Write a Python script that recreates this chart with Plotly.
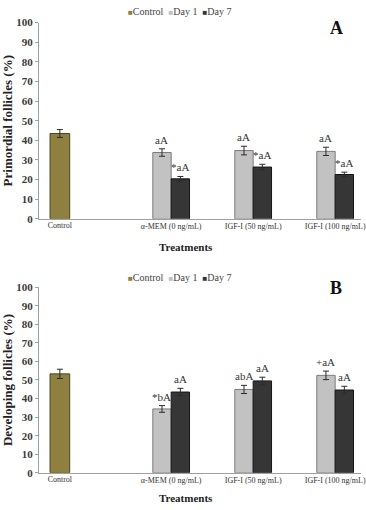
import plotly.graph_objects as go

# ---------------- data ----------------
treatments = ["α-MEM (0 ng/mL)", "IGF-I (50 ng/mL)", "IGF-I (100 ng/mL)"]
control_cat = ["Control"]
series_names = ["Control", "Day 1", "Day 7"]

# Panel A – Primordial follicles (%)
a_control = [43.5]
a_control_err = [2.0]
a_day1 = [33.8, 34.8, 34.4]
a_day1_err = [1.9, 2.2, 2.1]
a_day7 = [20.4, 26.4, 22.6]
a_day7_err = [1.2, 1.4, 1.2]
a_day1_sig = ["aA", "aA", "aA"]
a_day7_sig = ["*aA", "*aA", "*aA"]

# Panel B – Developing follicles (%)
b_control = [53.3]
b_control_err = [2.5]
b_day1 = [34.4, 44.9, 52.5]
b_day1_err = [1.8, 2.2, 2.3]
b_day7 = [43.5, 49.5, 44.6]
b_day7_err = [2.0, 2.0, 2.0]
b_day1_sig = ["*bA", "abA", "+aA"]
b_day7_sig = ["aA", "aA", "aA"]

y_ticks = [0, 10, 20, 30, 40, 50, 60, 70, 80, 90, 100]

# ---------------- styles ----------------
W, H = 366, 510
ML, MR = 39, 3
SERIF = "Liberation Serif"
col_fill = {"Control": "#8d8040", "Day 1": "#c2c2c2", "Day 7": "#363636"}
col_line = {"Control": "#4f4719", "Day 1": "#7c7c7c", "Day 7": "#151515"}
err_style = dict(type="data", color="#2b2b2b", thickness=1, width=3, visible=True)

fig = go.Figure()


def add_panel(xt, xc, ya, ctrl, ctrl_err, d1, d1_err, d7, d7_err):
    fig.add_trace(go.Bar(x=control_cat, y=ctrl, name="Control", xaxis=xc, yaxis=ya,
                         width=0.24, showlegend=False,
                         marker=dict(color=col_fill["Control"],
                                     line=dict(color=col_line["Control"], width=1)),
                         error_y=dict(array=ctrl_err, **err_style)))
    fig.add_trace(go.Bar(x=treatments, y=d1, name="Day 1", xaxis=xt, yaxis=ya,
                         showlegend=False,
                         marker=dict(color=col_fill["Day 1"],
                                     line=dict(color=col_line["Day 1"], width=1)),
                         error_y=dict(array=d1_err, **err_style)))
    fig.add_trace(go.Bar(x=treatments, y=d7, name="Day 7", xaxis=xt, yaxis=ya,
                         showlegend=False,
                         marker=dict(color=col_fill["Day 7"],
                                     line=dict(color=col_line["Day 7"], width=1)),
                         error_y=dict(array=d7_err, **err_style)))


add_panel("x", "x2", "y", a_control, a_control_err, a_day1, a_day1_err, a_day7, a_day7_err)
add_panel("x3", "x4", "y2", b_control, b_control_err, b_day1, b_day1_err, b_day7, b_day7_err)

# px per category unit and ranges so groups land where the reference has them
unit = 82.5
span = (W - ML - MR) / unit
t_lo = -(172 - ML) / unit
c_lo = -(60 - ML) / unit

domA = [1 - 218 / H, 1 - 17 / H]
domB = [1 - 478 / H, 1 - 288 / H]

tickfont_x = dict(family=SERIF, size=8, color="#333333")
tickfont_y = dict(family=SERIF, size=11, color="#3a3a3a", weight="bold")

def xt_axis(anchor):
    return dict(type="category", range=[t_lo, t_lo + span], domain=[0, 1], anchor=anchor,
                showline=True, linecolor="#a0a0a0", linewidth=1, ticks="",
                tickfont=tickfont_x, showgrid=False, zeroline=False, fixedrange=True)

def xc_axis(over, anchor):
    return dict(type="category", range=[c_lo, c_lo + span], domain=[0, 1], anchor=anchor,
                overlaying=over, showline=False, ticks="", tickfont=tickfont_x,
                showgrid=False, zeroline=False, fixedrange=True)

def y_axis(dom, title):
    return dict(range=[0, 100], domain=dom, tickvals=y_ticks, showline=True,
                linecolor="#a0a0a0", linewidth=1, ticks="outside", ticklen=3,
                tickcolor="#a0a0a0", tickfont=tickfont_y, showgrid=False, zeroline=False,
                title=dict(text=title, font=dict(family=SERIF, size=13, color="#222222",
                                                 weight="bold"), standoff=1),
                fixedrange=True)

fig.update_layout(
    width=W, height=H,
    margin=dict(l=ML, r=MR, t=0, b=0),
    paper_bgcolor="white", plot_bgcolor="white",
    barmode="group", bargap=0.552, bargroupgap=0,
    showlegend=False,
    xaxis=xt_axis("y"), xaxis2=xc_axis("x", "y"),
    xaxis3=xt_axis("y2"), xaxis4=xc_axis("x3", "y2"),
    yaxis=y_axis(domA, "Primordial follicles (%)"),
    yaxis2=y_axis(domB, "Developing follicles (%)"),
    font=dict(family=SERIF),
)

# significance letters above the error bars
bar_half = 0.224 / 2 * unit
sig_font = dict(family=SERIF, size=11, color="#333333")
for xref, yref, vals, errs, sigs, shift in [
    ("x", "y", a_day1, a_day1_err, a_day1_sig, -bar_half),
    ("x", "y", a_day7, a_day7_err, a_day7_sig, bar_half),
    ("x3", "y2", b_day1, b_day1_err, b_day1_sig, -bar_half),
    ("x3", "y2", b_day7, b_day7_err, b_day7_sig, bar_half),
]:
    for cat, v, e, s in zip(treatments, vals, errs, sigs):
        fig.add_annotation(x=cat, y=v + e, xref=xref, yref=yref, text=s,
                           showarrow=False, xshift=shift, yshift=9,
                           yanchor="middle", font=sig_font)

# legends (one per panel), x-axis titles and panel letters
def px_x(px):
    return (px - ML) / (W - ML - MR)

def px_y(py):
    return 1 - py / H

legend_txt = "  ".join(
    f"<span style='color:{col_fill[n]};font-size:8px'>■</span><span style='color:#444444'>{n}</span>"
    for n in series_names)
for ly in (6, 278):
    fig.add_annotation(x=px_x(180), y=px_y(ly), xref="paper", yref="paper",
                       text=legend_txt, showarrow=False, xanchor="center", yanchor="middle",
                       font=dict(family=SERIF, size=10, color="#444444"))

for ty in (247, 504):
    fig.add_annotation(x=px_x(187), y=px_y(ty), xref="paper", yref="paper",
                       text="<b>Treatments</b>", showarrow=False, xanchor="center",
                       yanchor="middle", font=dict(family=SERIF, size=11, color="#222222"))

for letter, ly in (("A", 23), ("B", 289)):
    fig.add_annotation(x=px_x(338), y=px_y(ly), xref="paper", yref="paper",
                       text=f"<b>{letter}</b>", showarrow=False, xanchor="center",
                       yanchor="middle", font=dict(family=SERIF, size=18, color="#111111"))

fig.write_html("out.html", include_plotlyjs=True, config={"displayModeBar": False})
